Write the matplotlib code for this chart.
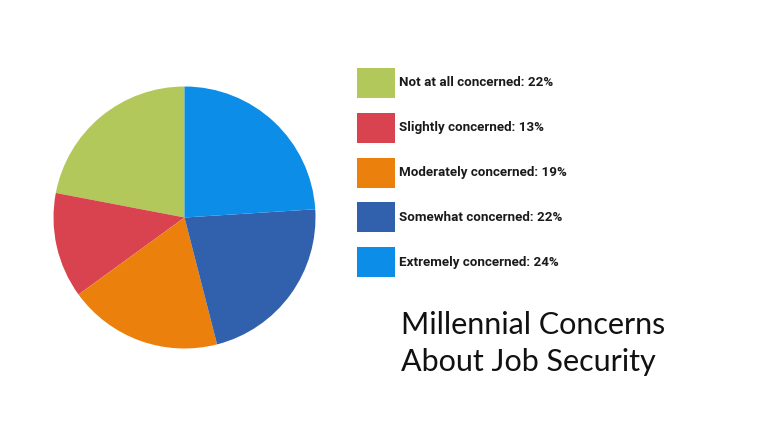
import matplotlib.pyplot as plt
from matplotlib.patches import Rectangle

# Datos del gráfico
labels = ['Not at all concerned', 'Slightly concerned', 'Moderately concerned',
          'Somewhat concerned', 'Extremely concerned']
values = [22, 13, 19, 22, 24]
colors = ['#b3c85b', '#d9434f', '#ec800c', '#3161ac', '#0b8de8']
title_lines = ['Millennial Concerns', 'About Job Security']

W, H = 763, 421
fig = plt.figure(figsize=(W / 100, H / 100), dpi=100)

# Pastel
cx, cy, r = 184.5, 217.5, 131
ax = fig.add_axes([(cx - r) / W, (H - cy - r) / H, 2 * r / W, 2 * r / H])
ax.pie(values, colors=colors, startangle=90, counterclock=True,
       wedgeprops={'linewidth': 0})
ax.set_xlim(-1, 1)
ax.set_ylim(-1, 1)
ax.set_aspect('equal')
ax.axis('off')

# Leyenda manual
x0, y0, bw, bh, step = 357, 68, 38, 30, 44.8
for i, (lab, val, col) in enumerate(zip(labels, values, colors)):
    top = y0 + i * step
    fig.add_artist(Rectangle((x0 / W, (H - top - bh) / H), bw / W, bh / H,
                             transform=fig.transFigure, facecolor=col,
                             edgecolor='none'))
    fig.text(399 / W, (H - top - bh / 2) / H, f'{lab}: {val}%',
             family='Roboto', weight='bold', fontsize=9.6,
             color='#1a1a1a', va='center', ha='left')

# Título
for j, line in enumerate(title_lines):
    fig.text(401 / W, (H - 334 - j * 37) / H, line, family='Lato',
             fontsize=22, color='#111111', va='baseline', ha='left')

fig.savefig('out.png', dpi=100)
